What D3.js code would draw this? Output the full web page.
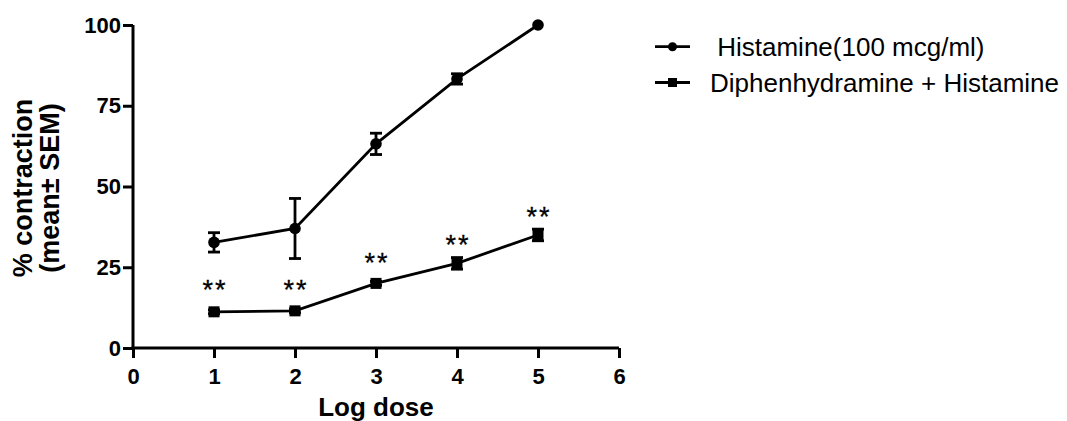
<!DOCTYPE html>
<html lang="en">
<head>
    <meta charset="UTF-8">
    <title>Histamine dose response</title>
    <style>
        body {
            margin: 0;
            background-color: #FFFFFF;
            font-family: Arial, "Liberation Sans", sans-serif;
        }
        .tick text {
            font-weight: bold;
            font-size: 22px;
            fill: #000;
        }
    </style>
</head>
<body>
    <div id="chart"></div>

    <script src="https://d3js.org/d3.v7.min.js"></script>
    <script>
        // Data
        const doses = [1, 2, 3, 4, 5];
        const histamineMean = [32.7, 37.0, 63.2, 83.3, 100];
        const histamineSem = [3.0, 9.3, 3.3, 1.6, 0];
        const diphenMean = [11.2, 11.5, 20.0, 26.2, 35.0];
        const diphenSem = [0.6, 0.6, 0.6, 1.8, 1.8];
        const starLevels = [20.1, 20.1, 28.3, 34.0, 42.7];
        const xTicks = [0, 1, 2, 3, 4, 5, 6];
        const yTicks = [0, 25, 50, 75, 100];
        const seriesNames = [" Histamine(100 mcg/ml)", "Diphenhydramine + Histamine"];

        const width = 1067, height = 421;

        const svg = d3.select("#chart")
            .append("svg")
            .attr("width", width)
            .attr("height", height);

        const x = d3.scaleLinear().domain([0, 6]).range([133, 619]);
        const y = d3.scaleLinear().domain([0, 100]).range([348, 25]);

        // Axes
        const yAxis = svg.append("g")
            .attr("transform", `translate(${x(0)},0)`)
            .call(d3.axisLeft(y).tickValues(yTicks).tickFormat(d3.format("d"))
                .tickSize(10).tickPadding(2).tickSizeOuter(0));

        const xAxis = svg.append("g")
            .attr("transform", `translate(0,${y(0)})`)
            .call(d3.axisBottom(x).tickValues(xTicks).tickFormat(d3.format("d"))
                .tickSize(10).tickPadding(10).tickSizeOuter(0));

        [xAxis, yAxis].forEach(ax => {
            ax.select(".domain").attr("stroke", "#000").attr("stroke-width", 3);
            ax.selectAll(".tick line").attr("stroke", "#000").attr("stroke-width", 3);
        });
        xAxis.select(".domain").attr("d", `M${x(0) - 1.5},0H${x(6)}`);
        yAxis.select(".domain").attr("d", `M0,${y(100)}V${y(0) + 1.5}`);

        // Axis titles
        svg.append("text")
            .attr("x", x(3))
            .attr("y", 416)
            .attr("text-anchor", "middle")
            .attr("font-weight", "bold")
            .attr("font-size", 26)
            .text("Log dose");

        const yTitle = svg.append("text")
            .attr("transform", `translate(32,188) rotate(-90)`)
            .attr("text-anchor", "middle")
            .attr("font-weight", "bold")
            .attr("font-size", 27);
        yTitle.append("tspan").attr("x", 0).attr("dy", 0).text("% contraction");
        yTitle.append("tspan").attr("x", 0).attr("dy", 27).text("(mean\u00b1 SEM)");

        const line = d3.line()
            .x(d => x(d[0]))
            .y(d => y(d[1]));

        function drawSeries(means, sems, shape) {
            const pts = doses.map((d, i) => [d, means[i], sems[i]]);
            const g = svg.append("g");

            g.append("path")
                .datum(pts)
                .attr("fill", "none")
                .attr("stroke", "#000")
                .attr("stroke-width", 2.8)
                .attr("d", line);

            // Error bars
            pts.filter(p => p[2] > 0).forEach(p => {
                const top = y(p[1] + p[2]), bot = y(p[1] - p[2]);
                g.append("line")
                    .attr("x1", x(p[0])).attr("x2", x(p[0]))
                    .attr("y1", top).attr("y2", bot)
                    .attr("stroke", "#000").attr("stroke-width", 2.8);
                [top, bot].forEach(v => {
                    g.append("line")
                        .attr("x1", x(p[0]) - 6).attr("x2", x(p[0]) + 6)
                        .attr("y1", v).attr("y2", v)
                        .attr("stroke", "#000").attr("stroke-width", 2.8);
                });
            });

            // Markers
            if (shape === "circle") {
                g.selectAll("circle")
                    .data(pts)
                    .join("circle")
                    .attr("cx", d => x(d[0]))
                    .attr("cy", d => y(d[1]))
                    .attr("r", 5.8)
                    .attr("fill", "#000");
            } else {
                g.selectAll("rect")
                    .data(pts)
                    .join("rect")
                    .attr("x", d => x(d[0]) - 5.5)
                    .attr("y", d => y(d[1]) - 5.5)
                    .attr("width", 11)
                    .attr("height", 11)
                    .attr("fill", "#000");
            }
        }

        drawSeries(histamineMean, histamineSem, "circle");
        drawSeries(diphenMean, diphenSem, "square");

        // Significance stars
        svg.append("g")
            .selectAll("text")
            .data(doses)
            .join("text")
            .attr("x", (d, i) => x(d) + 1)
            .attr("y", (d, i) => y(starLevels[i]))
            .attr("dy", "0.58em")
            .attr("text-anchor", "middle")
            .attr("font-size", 27)
            .attr("stroke", "#000")
            .attr("stroke-width", 0.3)
            .attr("letter-spacing", 2)
            .text("**");

        // Legend
        const legend = svg.append("g");
        const legendRows = [46.7, 82.5];
        seriesNames.forEach((name, i) => {
            const ly = legendRows[i];
            legend.append("line")
                .attr("x1", 655).attr("x2", 690)
                .attr("y1", ly).attr("y2", ly)
                .attr("stroke", "#000").attr("stroke-width", 2.8);
            if (i === 0) {
                legend.append("circle").attr("cx", 672.5).attr("cy", ly).attr("r", 4.5).attr("fill", "#000");
            } else {
                legend.append("rect").attr("x", 668).attr("y", ly - 4.5).attr("width", 9).attr("height", 9).attr("fill", "#000");
            }
            legend.append("text")
                .attr("x", 710)
                .attr("y", ly)
                .attr("dy", "0.36em")
                .attr("font-size", 26)
                .style("white-space", "pre")
                .text(name);
        });
    </script>
</body>
</html>
